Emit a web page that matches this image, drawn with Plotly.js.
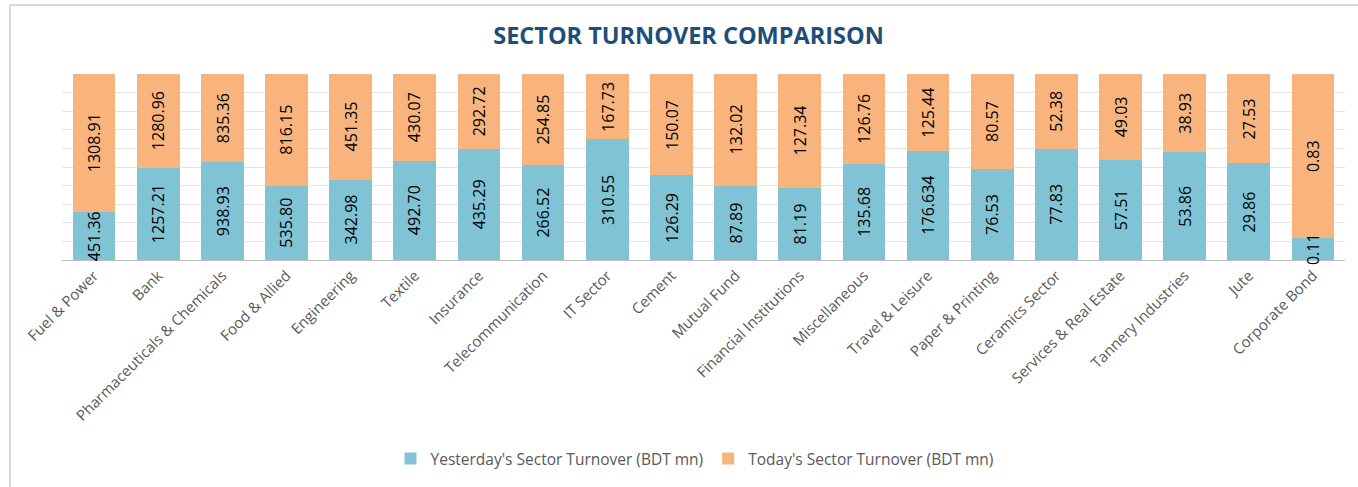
<!DOCTYPE html>
<html>
<head>
<meta charset="utf-8">
<script src="https://cdn.plot.ly/plotly-3.0.1.min.js"></script>
<style>
  html, body { margin: 0; padding: 0; background: #ffffff; }
  #wrap { position: relative; width: 1358px; height: 487px; overflow: hidden; }
  #chart { position: absolute; left: 0; top: 0; width: 1358px; height: 487px; }
  #frame { position: absolute; left: 9px; top: 4px; width: 1400px; height: 500px;
           border-top: 2px solid #d9d9d9; border-left: 2px solid #d9d9d9; pointer-events: none; }
</style>
</head>
<body>
<div id="wrap">
  <div id="chart"></div>
  <div id="frame"></div>
</div>
<script>
const sectors = ["Fuel & Power", "Bank", "Pharmaceuticals & Chemicals", "Food & Allied", "Engineering",
  "Textile", "Insurance", "Telecommunication", "IT Sector", "Cement", "Mutual Fund",
  "Financial Institutions", "Miscellaneous", "Travel & Leisure", "Paper & Printing",
  "Ceramics Sector", "Services & Real Estate", "Tannery Industries", "Jute", "Corporate Bond"];

const yesterdayTurnover = [451.36, 1257.21, 938.93, 535.80, 342.98, 492.70, 435.29, 266.52, 310.55, 126.29,
  87.89, 81.19, 135.68, 176.634, 76.53, 77.83, 57.51, 53.86, 29.86, 0.11];

const todayTurnover = [1308.91, 1280.96, 835.36, 816.15, 451.35, 430.07, 292.72, 254.85, 167.73, 150.07,
  132.02, 127.34, 126.76, 125.44, 80.57, 52.38, 49.03, 38.93, 27.53, 0.83];

const seriesNames = ["Yesterday's Sector Turnover (BDT mn)", "Today's Sector Turnover (BDT mn)"];

function fmt(v) {
  const s = String(v);
  const dec = s.includes(".") ? s.split(".")[1].length : 0;
  return dec < 2 ? v.toFixed(2) : s;
}

const FONT = "Open Sans, sans-serif";
const labelFont = { family: FONT, size: 16, color: "#000000" };

const traces = [
  {
    type: "bar", name: seriesNames[0], x: sectors, y: yesterdayTurnover,
    marker: { color: "#7fc3d5" }, hoverinfo: "x+y+name"
  },
  {
    type: "bar", name: seriesNames[1], x: sectors, y: todayTurnover,
    marker: { color: "#f8b47c" }, hoverinfo: "x+y+name"
  }
];

// data labels, centred in each stacked segment (percent-normalised, like barnorm)
const annotations = [];
sectors.forEach((s, i) => {
  const total = yesterdayTurnover[i] + todayTurnover[i];
  const pY = yesterdayTurnover[i] / total * 100;
  annotations.push({
    x: s, y: pY / 2, xref: "x", yref: "y", text: fmt(yesterdayTurnover[i]),
    showarrow: false, textangle: -90, font: labelFont, xanchor: "center", yanchor: "middle"
  });
  annotations.push({
    x: s, y: pY + (100 - pY) / 2, xref: "x", yref: "y", text: fmt(todayTurnover[i]),
    showarrow: false, textangle: -90, font: labelFont, xanchor: "center", yanchor: "middle"
  });
});

const layout = {
  width: 1358, height: 487,
  margin: { l: 62, r: 13, t: 74, b: 224 },
  paper_bgcolor: "#ffffff", plot_bgcolor: "#ffffff",
  barmode: "stack", barnorm: "percent", bargap: 0.334,
  title: {
    text: "<b>SECTOR TURNOVER COMPARISON</b>",
    font: { family: FONT, size: 23.5, color: "#1f4e79" },
    x: 0.507, xanchor: "center", xref: "container",
    y: 0.926, yanchor: "middle", yref: "container"
  },
  xaxis: {
    type: "category", tickangle: -45, showgrid: false,
    showline: true, linecolor: "#bfbfbf", linewidth: 1,
    ticks: "", tickfont: { family: FONT, size: 15, color: "#595959" },
    automargin: false
  },
  yaxis: {
    range: [0, 100], showticklabels: false, ticks: "",
    showgrid: true, gridcolor: "#e4e4e4", gridwidth: 1, dtick: 10,
    zeroline: false, showline: false, automargin: false
  },
  annotations: annotations,
  showlegend: true,
  legend: {
    orientation: "h", x: 0.493, xanchor: "center", y: -1.07, yanchor: "middle",
    font: { family: FONT, size: 15.5, color: "#595959" },
    itemwidth: 30, traceorder: "normal", bgcolor: "rgba(0,0,0,0)"
  }
};

Plotly.newPlot("chart", traces, layout, { displayModeBar: false, staticPlot: true });
</script>
</body>
</html>
